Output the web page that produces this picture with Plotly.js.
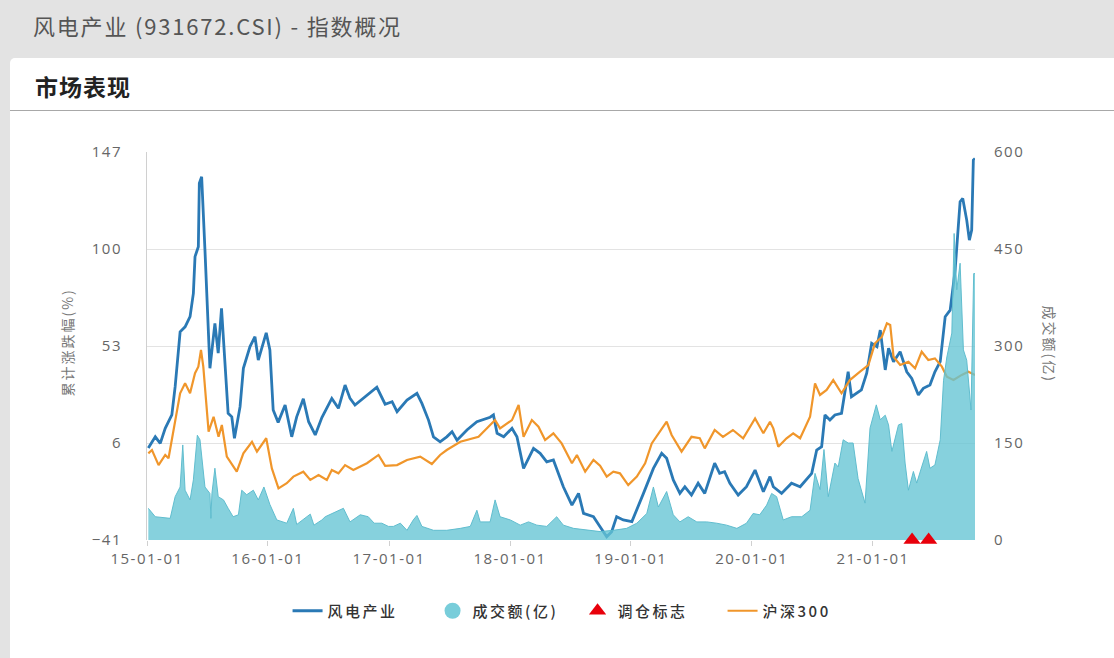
<!DOCTYPE html>
<html>
<head>
<meta charset="utf-8">
<script src="https://cdn.plot.ly/plotly-3.0.1.min.js"></script>
<style>
body{margin:0;width:1114px;height:658px;overflow:hidden;position:relative;background:#e3e3e3;font-family:"Noto Sans CJK SC",sans-serif;}
#head{position:absolute;left:33px;top:9px;font-size:22px;letter-spacing:1.8px;color:#555;}
#card{position:absolute;left:10px;top:58px;right:0;bottom:0;background:#fff;border-top-left-radius:5px;}
#cardtitle{height:52px;line-height:56px;padding-left:25px;font-size:23px;letter-spacing:1px;font-weight:bold;color:#222;border-bottom:1px solid #a8a8a8;}
#mbchart{position:absolute;left:0;top:112px;}
#mbchart .legendtext{letter-spacing:2.5px;}
#mbchart .xtick text, #mbchart .ytick text, #mbchart .y2tick text{letter-spacing:1.5px;}
#mbchart .annotation-text{letter-spacing:2px;}
</style>
</head>
<body>
<div id="head">风电产业 (931672.CSI) - 指数概况</div>
<div id="card"><div id="cardtitle">市场表现</div></div>
<div id="mbchart"></div>
<script>
// wind power index, cumulative change (%)
var windDates = ['2015-01-05','2015-01-26','2015-02-10','2015-02-25','2015-03-17','2015-03-27','2015-04-11','2015-04-26','2015-05-11','2015-05-21','2015-05-26','2015-06-05','2015-06-08','2015-06-15','2015-06-25','2015-07-10','2015-07-25','2015-08-04','2015-08-14','2015-09-03','2015-09-14','2015-09-22','2015-10-09','2015-10-19','2015-11-08','2015-11-23','2015-12-03','2015-12-14','2015-12-27',
'2016-01-07','2016-01-17','2016-02-01','2016-02-22','2016-03-13','2016-03-28','2016-04-17','2016-05-03','2016-05-23','2016-06-12','2016-07-12','2016-08-01','2016-08-21','2016-09-05','2016-09-20','2016-10-26','2016-11-25','2016-12-20',
'2017-01-10','2017-01-25','2017-02-24','2017-03-26','2017-04-10','2017-04-30','2017-05-15','2017-06-04','2017-06-24','2017-07-10','2017-07-25','2017-08-24','2017-09-23','2017-11-02','2017-11-12','2017-11-23','2017-12-13',
'2018-01-07','2018-01-22','2018-02-11','2018-03-13','2018-04-02','2018-04-22','2018-05-12','2018-06-11','2018-07-07','2018-07-27','2018-08-11','2018-09-10','2018-09-30','2018-10-20','2018-11-04','2018-11-19','2018-12-09',
'2019-01-04','2019-02-08','2019-03-10','2019-04-04','2019-04-19','2019-05-09','2019-05-29','2019-06-13','2019-07-03','2019-07-23','2019-08-12','2019-09-11','2019-09-26','2019-10-11','2019-10-27','2019-11-21','2019-12-16',
'2020-01-11','2020-02-05','2020-02-25','2020-03-06','2020-03-31','2020-04-30','2020-05-26','2020-06-30','2020-07-15','2020-07-30','2020-08-09','2020-08-24','2020-09-08','2020-09-28','2020-10-18','2020-10-28','2020-11-27','2020-12-13','2020-12-28',
'2021-01-13','2021-01-23','2021-02-07','2021-02-17','2021-03-04','2021-03-24','2021-04-13','2021-04-28','2021-05-18','2021-06-02','2021-06-22','2021-07-07','2021-07-23','2021-08-07','2021-08-22','2021-09-06','2021-09-21','2021-09-29','2021-10-11','2021-10-19','2021-10-26','2021-10-31','2021-11-05'];
var windValues = [3.6,9,5.8,13.1,19.6,33.3,59.9,62.3,67.2,78.5,96.3,101.1,131.8,135,99.5,42.2,64,49.5,71.3,20.4,18.7,8.3,23.6,42.2,52.7,57.5,46.2,52.7,59.4,
51.1,22,16,24.4,9,18.7,27.4,16.3,9.9,18.3,27.6,22.8,34.1,27.6,24.4,28.9,33,24.8,
26,21.2,26.8,30.1,25.2,17.1,9,6.6,9,11.5,7.4,12.3,16.3,18.5,19.6,10.7,9,
13.1,9,-6.3,3.4,1,-3.1,-2.2,-15.2,-24.1,-18.4,-28.1,-29.7,-34.6,-39.4,-37,-29.7,-31.3,
-32.1,-18.4,-6.3,1,-1.4,-11.9,-18.4,-15.2,-19.2,-13.5,-18.4,-3.8,-8.7,-7.9,-13.5,-19.2,-15.2,
-7.1,-17.6,-10.3,-15.2,-18.4,-13.5,-15.2,-8.7,2.6,4.2,19.6,17.1,19.6,20.4,40.5,28.4,31.7,39.8,54.3,
52.7,60.7,41.4,51.9,45.4,50.2,40.5,37.3,29.3,32.5,34.1,40.5,45.4,67.2,70.4,89.8,122.9,124.5,114,104.3,109.2,143.1,143.9];

// CSI 300, cumulative change (%)
var hs300Dates = ['2015-01-05','2015-01-16','2015-02-05','2015-02-25','2015-03-07','2015-03-22','2015-04-11','2015-04-26','2015-05-11','2015-05-26','2015-06-05','2015-06-13','2015-06-20','2015-07-06','2015-07-21','2015-08-05','2015-08-15','2015-08-30','2015-09-29','2015-10-19','2015-11-14','2015-11-29','2015-12-27',
'2016-01-13','2016-02-02','2016-02-27','2016-03-18','2016-04-17','2016-05-08','2016-06-02','2016-06-27','2016-07-12','2016-08-01','2016-08-21','2016-09-15','2016-10-26','2016-11-30','2016-12-20',
'2017-01-25','2017-02-24','2017-04-05','2017-05-10','2017-06-04','2017-06-24','2017-08-04','2017-09-28','2017-11-02','2017-11-17','2017-12-02',
'2018-01-07','2018-01-27','2018-02-11','2018-03-08','2018-03-28','2018-04-17','2018-05-12','2018-06-06','2018-07-07','2018-07-22','2018-08-16','2018-09-10','2018-09-30','2018-10-20','2018-11-09','2018-11-29','2018-12-24',
'2019-01-19','2019-02-13','2019-03-05','2019-03-25','2019-04-19','2019-05-04','2019-06-03','2019-07-03','2019-07-28','2019-08-12','2019-09-11','2019-10-06','2019-11-05','2019-12-06',
'2020-01-11','2020-02-05','2020-02-25','2020-03-06','2020-03-21','2020-04-15','2020-05-05','2020-05-26','2020-06-25','2020-07-10','2020-07-25','2020-08-14','2020-09-03','2020-09-28','2020-10-23','2020-11-22','2020-12-18',
'2021-01-07','2021-01-28','2021-02-12','2021-02-22','2021-03-04','2021-03-24','2021-04-18','2021-05-08','2021-05-28','2021-06-17','2021-07-07','2021-07-28','2021-08-12','2021-09-01','2021-09-26','2021-10-16','2021-11-05'];
var hs300Values = [1,2.6,-4.7,0.2,-1.4,11.5,30.1,34.9,30.1,39.8,43,51.1,43,11.5,18.7,9,14.7,-0.6,-7.9,1,6.6,1.8,8.3,
-6.3,-16,-13.5,-10.3,-7.9,-11.9,-9.5,-11.9,-7.1,-8.7,-4.7,-7.1,-3.8,0.2,-5.1,
-4.7,-2.2,-0.6,-4.2,0.2,2.6,6.6,9,14.7,17.1,13.1,
17.1,24.4,9,17.1,13.9,7.4,10.7,5.8,-3.8,0.2,-7.9,-2.2,-5,-10.3,-7.9,-8.7,-14.4,
-10.3,-3.8,5.8,10.7,16.3,9.9,1.8,9,8.3,3.4,12.3,9,12.3,8.3,
17.9,10.7,16.3,13.1,4.2,8.3,10.7,8.3,18.7,34.9,29.3,31.7,36.5,30.1,36.5,40.5,43.8,
54.3,57.5,64,63.2,47.8,43.8,45.4,42.2,50.2,46.2,47,43,38.1,36.5,39,40.5,39];

// turnover (100 million yuan)
var volDates = ['2015-01-05','2015-01-26','2015-03-12','2015-03-27','2015-04-11','2015-04-19','2015-04-26','2015-05-11','2015-05-21','2015-06-02','2015-06-10','2015-06-25','2015-07-10','2015-07-13','2015-07-16','2015-07-25','2015-08-04','2015-08-20','2015-09-03','2015-09-18','2015-10-04','2015-10-14','2015-10-29','2015-11-18','2015-12-03','2015-12-20',
'2016-01-07','2016-01-28','2016-02-27','2016-03-18','2016-03-28','2016-05-08','2016-05-19','2016-06-12','2016-06-22','2016-07-19','2016-08-16','2016-09-05','2016-10-06','2016-10-30','2016-11-17','2016-12-10','2016-12-30',
'2017-01-14','2017-02-04','2017-02-24','2017-03-15','2017-03-26','2017-04-10','2017-05-15','2017-06-24','2017-08-04','2017-09-03','2017-09-23','2017-10-03','2017-11-02','2017-11-17','2017-12-02',
'2018-01-02','2018-02-01','2018-02-26','2018-03-23','2018-04-22','2018-05-22','2018-06-11','2018-07-12','2018-08-21','2018-09-30','2018-11-09','2018-12-19',
'2019-01-19','2019-02-18','2019-03-10','2019-03-25','2019-04-19','2019-05-09','2019-05-29','2019-06-23','2019-07-19','2019-08-18','2019-09-17','2019-10-17','2019-11-17','2019-12-16',
'2020-01-05','2020-01-25','2020-02-15','2020-03-01','2020-03-16','2020-04-05','2020-04-30','2020-05-31','2020-06-25','2020-07-10','2020-07-25','2020-08-06','2020-08-19','2020-08-29','2020-09-08','2020-09-18','2020-10-03','2020-10-18','2020-11-02','2020-11-17','2020-12-08','2020-12-23',
'2021-01-11','2021-01-23','2021-02-07','2021-02-17','2021-02-27','2021-03-19','2021-03-29','2021-04-08','2021-04-18','2021-05-03','2021-05-13','2021-05-28','2021-06-12','2021-06-22','2021-07-07','2021-07-23','2021-08-02','2021-08-12','2021-08-27','2021-09-03','2021-09-11','2021-09-21','2021-10-01','2021-10-11','2021-10-24','2021-11-01','2021-11-05'];
var volValues = [49,36,33.5,67,82,147,77,62,93,162,155,82,72,33.5,72,111,67,62,49,36,39,77,70,77,62,82,
55,31,26,49,24,40,23,31,36,42,49,28,39,36,26,26,21,
21,26,15,31,38,21,15,15,18,21,46,28,28,62,36,
31,23,28,23,21,36,23,18,15,13,15,18,
26,41,82,51,75,39,28,36,28,28,26,23,18,26,
41,39,54,72,67,31,36,36,46,103,78,140,67,95,119,113,155,150,150,95,57,173,
209,186,193,178,137,178,180,119,77,106,88,113,137,111,116,155,247,283,320,474,387,428,294,278,201,412,412];

// index rebalancing markers
var rebalDates = ['2021-04-29','2021-06-18'];
var rebalLevel = [0,0];

var tickDates = ['2015-01-01','2016-01-01','2017-01-01','2018-01-01','2019-01-01','2020-01-01','2021-01-01'];
var tickLabels = ['15-01-01','16-01-01','17-01-01','18-01-01','19-01-01','20-01-01','21-01-01'];
var leftTicks = [-41,6,53,100,147];
var rightTicks = [0,150,300,450,600];

var cjk = '"Noto Sans CJK SC", sans-serif';
var tickfont = {family: '"Open Sans", sans-serif', size: 15, color: '#666'};

var traces = [
  {
    //wind index line
    x: windDates, y: windValues,
    type: 'scatter', mode: 'lines',
    name: '风电产业',
    line: {color: '#2a79b5', width: 2.8},
    legendrank: 1
  },{
    //turnover area, legend drawn by the dummy below
    x: volDates, y: volValues,
    yaxis: 'y2',
    type: 'scatter', mode: 'lines',
    fill: 'tozeroy',
    fillcolor: 'rgba(100,196,212,0.78)',
    line: {color: 'rgba(92,186,204,0.95)', width: 1},
    showlegend: false
  },{
    //legend entry for turnover
    x: [null], y: [null],
    yaxis: 'y2',
    type: 'scatter', mode: 'markers',
    name: '成交额(亿)',
    marker: {symbol: 'circle', size: 16, color: '#78cdda'},
    legendrank: 2
  },{
    //rebalancing markers
    x: rebalDates, y: rebalLevel,
    yaxis: 'y2',
    type: 'scatter', mode: 'markers',
    name: '调仓标志',
    marker: {symbol: 'triangle-up', size: 15, color: '#e8000b'},
    cliponaxis: false,
    legendrank: 3
  },{
    //CSI 300 line
    x: hs300Dates, y: hs300Values,
    type: 'scatter', mode: 'lines',
    name: '沪深300',
    line: {color: '#f0962b', width: 2.2},
    legendrank: 4
  }];

var layout = {
  width: 1114, height: 546,
  margin: {l: 147, r: 139, t: 40, b: 118},
  paper_bgcolor: 'rgba(0,0,0,0)',
  plot_bgcolor: '#fff',
  font: {family: cjk, color: '#555'},
  showlegend: true,
  legend: {
    orientation: 'h', x: 0.52, xanchor: 'center', y: -0.183, yanchor: 'middle',
    font: {family: cjk, size: 15, color: '#333', weight: 500},
    itemwidth: 30,
    entrywidth: 100, entrywidthmode: 'pixels'
  },
  xaxis: {
    type: 'date',
    range: ['2015-01-01', '2021-11-05'],
    tickvals: tickDates, ticktext: tickLabels,
    showgrid: false, zeroline: false, showline: false,
    ticks: 'outside', ticklen: 5, tickcolor: '#d0d0d0',
    tickfont: tickfont
  },
  yaxis: {
    range: [-41, 147],
    tickvals: leftTicks,
    showgrid: true, gridcolor: '#e3e3e3', zeroline: false,
    showline: true, linecolor: '#d0d0d0',
    ticklabelstandoff: 21,
    tickfont: tickfont
  },
  yaxis2: {
    overlaying: 'y', side: 'right',
    range: [0, 600],
    tickvals: rightTicks,
    showgrid: false, zeroline: false, showline: false,
    ticklabelstandoff: 18,
    tickfont: tickfont
  },
  annotations: [
    {text: '累计涨跌幅(%)', xref: 'paper', yref: 'paper', x: -0.097, y: 0.508,
     xanchor: 'center', yanchor: 'middle',
     textangle: -90, showarrow: false, font: {family: cjk, size: 14, color: '#777'}},
    {text: '成交额(亿)', xref: 'paper', yref: 'paper', x: 1.09, y: 0.505,
     xanchor: 'center', yanchor: 'middle',
     textangle: 90, showarrow: false, font: {family: cjk, size: 14, color: '#777'}}
  ]
};

Plotly.newPlot('mbchart', traces, layout, {displayModeBar: false});
</script>
</body>
</html>
